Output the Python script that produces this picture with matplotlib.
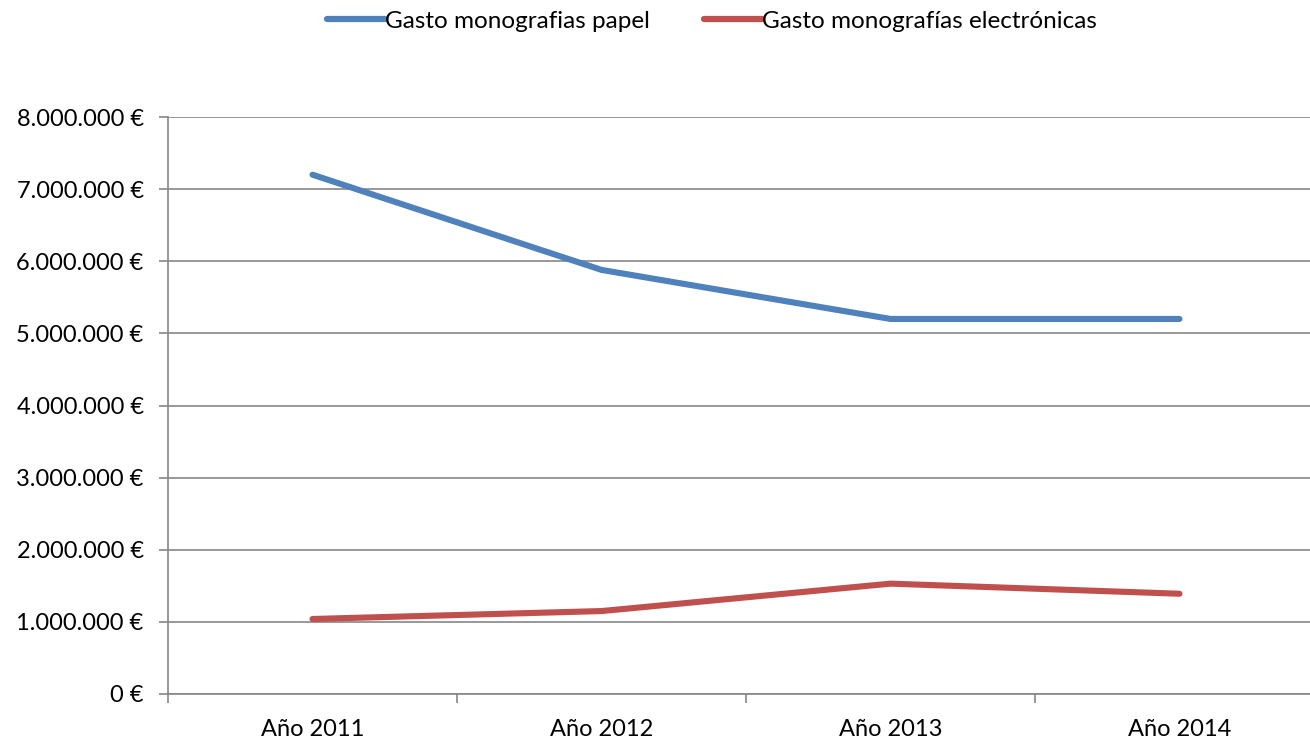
import matplotlib
matplotlib.use("Agg")
import matplotlib.pyplot as plt
from matplotlib.ticker import FuncFormatter, MultipleLocator

plt.rcParams['font.family'] = ['Lato', 'DejaVu Sans']

years = ['Año 2011', 'Año 2012', 'Año 2013', 'Año 2014']
papel = [7200000, 5880000, 5200000, 5200000]
electronicas = [1040000, 1150000, 1530000, 1390000]

W, H = 1310, 742
fig = plt.figure(figsize=(W / 100, H / 100), dpi=100)
# plot area runs past the right edge of the picture, as in the original
ax = fig.add_axes([168 / W, 1 - 694 / H, (1324 - 168) / W, (694 - 117) / H])

x = range(len(years))
l1, = ax.plot(x, papel, color='#4F81BD', lw=4.4, solid_capstyle='round',
              label='Gasto monografias papel')
l2, = ax.plot(x, electronicas, color='#C0504D', lw=4.4, solid_capstyle='round',
              label='Gasto monografías electrónicas')

ax.set_xlim(-0.5, 3.5)
ax.set_ylim(0, 8000000)
ax.yaxis.set_major_locator(MultipleLocator(1000000))


def euro(v, pos):
    return '{:,.0f} €'.format(v).replace(',', '.')


ax.yaxis.set_major_formatter(FuncFormatter(euro))
ax.set_xticks(list(x))
ax.set_xticklabels(years)
ax.set_xticks([-0.5, 0.5, 1.5, 2.5, 3.5], minor=True)
ax.tick_params(axis='x', which='major', length=0, pad=18, labelsize=17)
ax.tick_params(axis='x', which='minor', length=6.5, width=1.2, color='#868686')
ax.tick_params(axis='y', length=6.5, width=1.2, color='#868686', pad=11, labelsize=17)

ax.grid(axis='y', color='#868686', lw=1.2)
ax.set_axisbelow(True)
for s in ['top', 'right']:
    ax.spines[s].set_visible(False)
for s in ['left', 'bottom']:
    ax.spines[s].set_color('#868686')
    ax.spines[s].set_linewidth(1.2)

leg = fig.legend(handles=[l1, l2], loc='center', bbox_to_anchor=(712 / W, 1 - 21 / H),
                 ncol=2, frameon=False, fontsize=17.5, handlelength=2.4,
                 handletextpad=0.0, columnspacing=2.2)
for h in leg.legend_handles:
    h.set_linewidth(4.5)

fig.savefig('out.png', dpi=100)
